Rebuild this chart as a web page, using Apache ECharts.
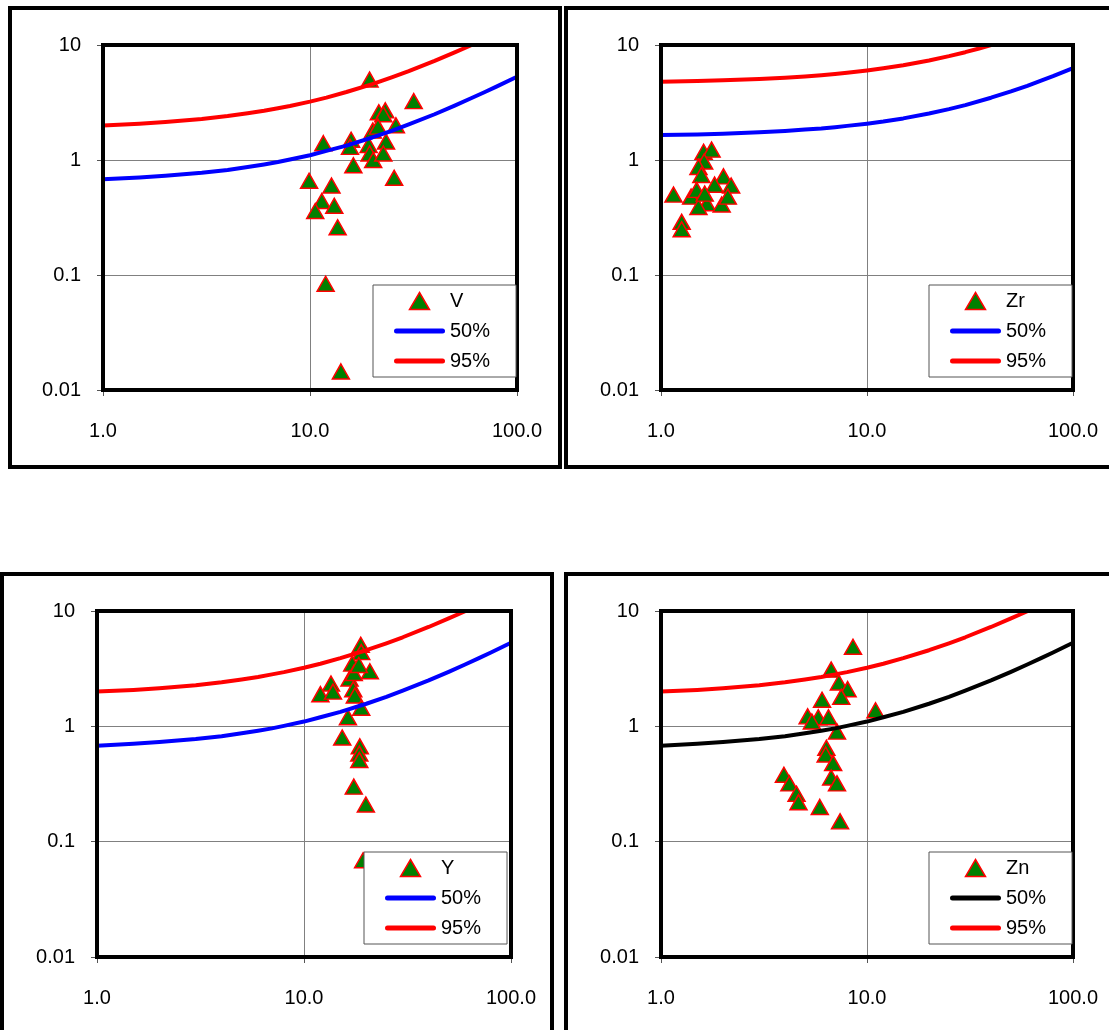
<!DOCTYPE html>
<html>
<head>
<meta charset="utf-8">
<script src="https://cdn.jsdelivr.net/npm/echarts@6/dist/echarts.min.js"></script>
<style>
html,body{margin:0;padding:0;background:#fff;}
#c{width:1109px;height:1030px;}
</style>
</head>
<body>
<div id="c"></div>
<script>
// ---- data ----
const vX  = [19.4, 31.7, 21.5, 23.1, 22.6, 26.0, 20.1, 21.3, 11.6, 15.8, 15.6, 19.2, 23.3, 19.4, 20.2, 22.6, 16.2, 25.5, 9.9, 12.7, 11.4, 13.1, 10.6, 13.6, 11.9, 14.1];
const vY  = [5.0, 3.25, 2.6, 2.7, 2.5, 2.0, 1.8, 1.95, 1.4, 1.5, 1.3, 1.35, 1.45, 1.14, 1.0, 1.14, 0.9, 0.7, 0.66, 0.6, 0.44, 0.4, 0.36, 0.26, 0.084, 0.0145];
const zrX = [1.61, 1.76, 1.62, 1.52, 1.57, 2.01, 2.19, 1.82, 1.15, 1.40, 1.67, 1.97, 1.52, 2.11, 1.26, 1.26, 1.49, 1.63];
const zrY = [1.18, 1.23, 0.97, 0.87, 0.74, 0.72, 0.6, 0.61, 0.5, 0.48, 0.42, 0.41, 0.39, 0.48, 0.29, 0.25, 0.55, 0.51];
const yX  = [18.8, 18.9, 17.1, 20.8, 16.6, 13.5, 12.0, 13.8, 17.3, 17.6, 18.9, 16.3, 15.3, 18.6, 18.5, 18.5, 17.4, 19.9, 19.3, 17.4, 18.4];
const yY  = [5.1, 4.4, 3.5, 3.0, 2.6, 2.35, 1.9, 2.0, 2.1, 1.85, 1.45, 1.2, 0.8, 0.67, 0.58, 0.51, 0.3, 0.21, 0.069, 2.9, 3.4];
const znX = [8.55, 6.7, 7.3, 8.05, 7.5, 6.05, 5.15, 5.8, 6.5, 5.4, 7.15, 11.0, 6.35, 6.3, 6.85, 6.7, 7.15, 3.95, 4.2, 4.55, 4.65, 5.9, 7.4];
const znY = [4.9, 3.1, 2.4, 2.1, 1.8, 1.7, 1.22, 1.2, 1.2, 1.1, 0.9, 1.38, 0.65, 0.57, 0.48, 0.36, 0.32, 0.38, 0.32, 0.26, 0.22, 0.2, 0.15];

// 50% / 95% curves (V, Y, Zn share the same curves)
const curveX50 = [1, 1.5, 2, 3, 4, 5, 6, 7, 8, 10, 12, 15, 20, 25, 30, 40, 50, 60, 70, 80, 100];
const base50   = [0.68, 0.705, 0.73, 0.775, 0.82, 0.87, 0.915, 0.96, 1.01, 1.1, 1.2, 1.335, 1.57, 1.8, 2.04, 2.5, 2.97, 3.44, 3.9, 4.37, 5.3];
const zr50     = [1.65, 1.67, 1.69, 1.74, 1.79, 1.84, 1.88, 1.93, 1.98, 2.07, 2.16, 2.3, 2.54, 2.77, 3.0, 3.48, 3.95, 4.42, 4.9, 5.36, 6.3];
const curveX95 = [1, 1.5, 2, 3, 4, 5, 6, 7, 8, 10, 12, 15, 20, 25, 30, 40, 50, 60.4];
const base95   = [2.0, 2.07, 2.14, 2.27, 2.41, 2.55, 2.68, 2.82, 2.95, 3.22, 3.49, 3.9, 4.57, 5.25, 5.92, 7.27, 8.62, 10];
const zrCurveX95 = [1, 1.5, 2, 3, 4, 5, 6, 7, 8, 10, 12, 15, 20, 25, 30, 35, 40];
const zr95     = [4.8, 4.87, 4.93, 5.07, 5.2, 5.33, 5.47, 5.6, 5.73, 6.0, 6.27, 6.67, 7.33, 8.0, 8.66, 9.33, 10.0];

const elements = ['V', 'Zr', 'Y', 'Zn'];
const xMin = 1, xMax = 100, yMin = 0.01, yMax = 10;

// ---- layout / style ----
const FONT = 'Liberation Sans';
const FS = 20;
const grids = [
  {left: 103, top: 45, width: 414, height: 345},
  {left: 661, top: 45, width: 412, height: 345},
  {left: 97,  top: 611, width: 414, height: 346},
  {left: 661, top: 611, width: 412, height: 346}
];
const legendPos = [
  {left: 373, top: 285},
  {left: 929, top: 285},
  {left: 364, top: 852},
  {left: 929, top: 852}
];
const fiftyColors = ['#0000ff', '#0000ff', '#0000ff', '#000000'];
const outer = [
  {x: 10, y: 8, width: 550, height: 459},
  {x: 566, y: 8, width: 600, height: 459},
  {x: 2, y: 574, width: 550, height: 520},
  {x: 566, y: 574, width: 600, height: 520}
];

const zip = (a, b) => a.map((v, i) => [v, b[i]]);
const scatterData = [zip(vX, vY), zip(zrX, zrY), zip(yX, yY), zip(znX, znY)];
const line50Data = [zip(curveX50, base50), zip(curveX50, zr50), zip(curveX50, base50), zip(curveX50, base50)];
const line95Data = [zip(curveX95, base95), zip(zrCurveX95, zr95), zip(curveX95, base95), zip(curveX95, base95)];

const triPath = 'path://M10,0L20,17L0,17Z';
const linePath = 'path://M2.5,0H48.5A2.5,2.5,0,0,1,48.5,5H2.5A2.5,2.5,0,0,1,2.5,0Z';

const option = {
  backgroundColor: '#fff',
  animation: false,
  grid: grids.map(g => Object.assign({containLabel: false, show: false}, g)),
  xAxis: grids.map((g, i) => ({
    type: 'log', logBase: 10, gridIndex: i, min: xMin, max: xMax,
    axisLine: {show: false},
    axisTick: {show: true, length: 6, lineStyle: {color: '#555', width: 1}},
    splitLine: {show: true, lineStyle: {color: '#808080', width: 1}},
    axisLabel: {margin: 31, fontSize: FS, fontFamily: FONT, color: '#000', formatter: v => Number(v).toFixed(1)}
  })),
  yAxis: grids.map((g, i) => ({
    type: 'log', logBase: 10, gridIndex: i, min: yMin, max: yMax,
    axisLine: {show: false},
    axisTick: {show: true, length: 6, lineStyle: {color: '#555', width: 1}},
    splitLine: {show: true, lineStyle: {color: '#808080', width: 1}},
    axisLabel: {margin: 22, fontSize: FS, fontFamily: FONT, color: '#000',
      formatter: v => (v >= 1 ? Number(v).toFixed(0) : String(parseFloat(Number(v).toPrecision(2))))}
  })),
  legend: legendPos.map((p, i) => ({
    orient: 'vertical', left: p.left, top: p.top,
    itemWidth: 51, itemHeight: 17, itemGap: 10,
    padding: [6, 26, 6, 21],
    backgroundColor: '#fff', borderColor: '#555', borderWidth: 1, borderRadius: 0,
    selectedMode: false,
    textStyle: {fontSize: FS, fontFamily: FONT, color: '#000'},
    data: [
      {name: elements[i], icon: triPath, itemStyle: {color: '#008000', borderColor: '#ff0000', borderWidth: 1.5}},
      {name: '50%', icon: linePath, itemStyle: {color: fiftyColors[i], borderWidth: 0}},
      {name: '95%', icon: linePath, itemStyle: {color: '#ff0000', borderWidth: 0}}
    ],
    z: 20
  })),
  series: [],
  graphic: []
};

grids.forEach((g, i) => {
  option.series.push({
    name: elements[i], type: 'scatter', xAxisIndex: i, yAxisIndex: i,
    symbol: 'triangle', symbolSize: [17, 15],
    itemStyle: {color: '#008000', borderColor: '#ff0000', borderWidth: 1.5, opacity: 1},
    data: scatterData[i], z: 3
  });
  option.series.push({
    name: '50%', type: 'line', xAxisIndex: i, yAxisIndex: i,
    smooth: false, symbol: 'none', showSymbol: false,
    lineStyle: {color: fiftyColors[i], width: 4, join: 'round', cap: 'round'},
    itemStyle: {color: fiftyColors[i]},
    data: line50Data[i], z: 4
  });
  option.series.push({
    name: '95%', type: 'line', xAxisIndex: i, yAxisIndex: i,
    smooth: false, symbol: 'none', showSymbol: false,
    lineStyle: {color: '#ff0000', width: 4, join: 'round', cap: 'round'},
    itemStyle: {color: '#ff0000'},
    data: line95Data[i], z: 4
  });
  // plot-area frame
  option.graphic.push({
    type: 'rect', z: 10, silent: true,
    shape: {x: g.left, y: g.top, width: g.width, height: g.height},
    style: {fill: null, stroke: '#000', lineWidth: 4}
  });
  // chart-area frame
  option.graphic.push({
    type: 'rect', z: 10, silent: true,
    shape: outer[i],
    style: {fill: null, stroke: '#000', lineWidth: 4}
  });
});

const chart = echarts.init(document.getElementById('c'), null, {renderer: 'canvas'});
chart.setOption(option);
</script>
</body>
</html>
